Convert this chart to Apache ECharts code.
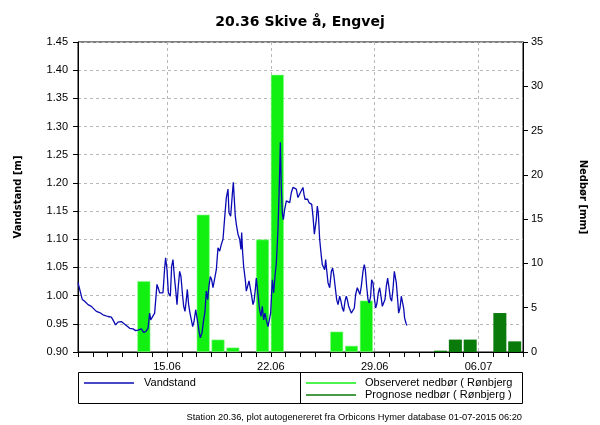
<!DOCTYPE html>
<html>
<head>
<meta charset="utf-8">
<script src="https://cdn.jsdelivr.net/npm/echarts@6/dist/echarts.min.js"></script>
<style>
html,body{margin:0;padding:0;background:#fff;}
#chart{width:600px;height:425px;}
</style>
</head>
<body>
<div id="chart"></div>
<script>
// ---- data ----
// Vandstand: hours after 09.06.2015 00:00 and level [m]
const levelHours = [0,2.7,7.0,10.8,16.2,21.6,24.3,29.7,35.1,40.4,48.5,53.9,56.6,60.9,62.0,64.7,70.1,72.8,78.2,83.6,89.0,93.3,97.1,99.8,102.5,106.2,109.5,113.3,115.9,117.6,120.3,124.0,127.8,130.5,132.1,134.8,137.5,140.2,141.8,144.0,146.2,148.3,149.4,151.5,153.7,155.9,158.0,160.2,162.3,164.5,166.6,168.8,171.0,173.1,175.3,176.9,179.0,181.2,183.4,185.5,187.7,190.4,193.1,195.8,197.9,200.6,203.3,205.5,207.6,209.8,211.9,214.1,216.3,218.4,221.1,223.8,226.5,229.2,231.9,234.6,237.3,240.0,242.7,244.3,247.0,249.7,251.3,252.9,254.5,256.2,258.9,261.6,263.7,264.8,266.4,268.0,270.7,272.3,275.0,276.7,278.8,281.0,283.1,284.8,286.9,288.5,291.2,293.9,296.1,298.2,300.4,302.5,304.7,307.4,310.1,311.7,314.4,316.6,318.7,320.9,323.6,325.2,326.3,327.4,329.0,330.6,332.2,334.4,337.1,339.8,342.5,345.2,347.8,350.5,353.2,355.9,358.6,361.3,364.0,365.6,367.3,369.4,371.6,373.7,375.9,378.1,380.2,382.4,384.0,385.6,387.2,388.8,391.0,393.7,395.3,397.5,399.1,400.7,402.3,404.5,407.2,409.9,412.0,414.2,416.3,418.5,420.7,423.4,425.5,427.7,429.8,432.0,434.1,435.8,437.9,440.1,442.2,444.4,447.1,449.2,451.9,454.1,456.2,458.4,461.1,463.2,464.9,467.0,469.2,471.3,473.5,475.1,477.3,479.4,481.6,483.8,485.9,488.1,490.2,492.4,494.5,496.7,498.9,501.0,503.2,505.3,507.5,509.6,511.8,513.4,515.0,517.2,518.8,521.0,523.1,525.3,526.9,528.5,530.7,532.3];
const levelValues = [1.023,1.024,0.993,0.990,0.984,0.981,0.978,0.972,0.970,0.966,0.963,0.962,0.957,0.948,0.950,0.953,0.954,0.951,0.947,0.942,0.941,0.938,0.939,0.936,0.941,0.935,0.936,0.942,0.969,0.957,0.954,0.969,1.020,1.011,1.005,1.008,1.005,1.049,1.067,1.046,1.005,1.008,0.999,1.052,1.064,1.034,1.011,0.984,1.017,1.043,1.034,1.005,0.981,0.972,0.993,1.011,0.984,0.969,0.957,0.945,0.954,0.975,0.957,0.937,0.925,0.934,0.957,0.972,1.008,0.993,1.017,1.034,1.028,1.014,1.011,1.046,1.085,1.079,1.091,1.100,1.138,1.174,1.189,1.147,1.141,1.180,1.201,1.171,1.141,1.126,1.109,1.100,1.082,1.112,1.076,1.052,1.028,1.008,1.011,1.026,1.023,0.999,0.984,0.990,1.011,1.031,1.002,0.975,0.963,0.981,0.957,0.969,0.957,0.945,0.948,0.969,1.028,1.005,1.034,1.058,1.118,1.177,1.221,1.272,1.189,1.147,1.135,1.153,1.168,1.171,1.165,1.183,1.192,1.195,1.189,1.174,1.171,1.186,1.192,1.180,1.171,1.168,1.171,1.165,1.168,1.162,1.141,1.109,1.112,1.135,1.159,1.147,1.100,1.070,1.055,1.058,1.046,1.064,1.046,1.023,1.014,1.043,1.049,1.034,1.014,0.993,0.984,0.999,0.990,0.978,0.972,0.990,0.999,0.993,0.981,0.975,0.969,0.972,0.978,1.002,1.014,1.011,1.002,1.017,1.043,1.055,1.046,1.017,0.993,0.987,0.999,1.028,1.023,0.996,0.978,0.987,1.005,1.014,0.999,0.981,0.978,0.993,1.017,1.031,1.014,0.996,0.990,1.011,1.043,1.046,1.023,0.993,0.969,0.978,0.999,1.002,0.978,0.960,0.951,0.947];

// Observeret nedbør (Rønbjerg), daily [mm]
const obsDates  = ['13.06','17.06','18.06','19.06','21.06','22.06','26.06','27.06','28.06'];
const obsValues = [8.0, 15.5, 1.4, 0.5, 12.7, 31.3, 2.3, 0.7, 5.8];
// Prognose nedbør (Rønbjerg), daily [mm]
const progDates  = ['03.07','04.07','05.07','07.07','08.07'];
const progValues = [0.15, 1.4, 1.4, 4.4, 1.2];

// axis settings
const startDate = '09.06';
const endDate = '09.07';
const xTickLabels = ['15.06','22.06','29.06','06.07'];
const levelTicks = [0.90, 1.45, 0.05];   // min, max, step
const rainTicks = [0, 35, 5];

// ---- helpers: day index since 01.06.2015 ----
function dayIndex(ddmm){
  const [d,m] = ddmm.split('.').map(Number);
  return m === 6 ? d - 1 : 30 + d - 1;
}
function dayLabel(i){
  let d, m;
  if (i < 30){ d = i + 1; m = 6; } else { d = i - 29; m = 7; }
  return String(d).padStart(2,'0') + '.' + String(m).padStart(2,'0');
}
const x0 = dayIndex(startDate), x1 = dayIndex(endDate);
const dayCategories = [];
for (let i = x0; i <= x1; i++) dayCategories.push(dayLabel(i));
const isMajor = (idx, val) => xTickLabels.indexOf(val) >= 0;

const BAR_SHIFT = 0.44; // bars drawn in the first part of their day
const levelData = levelHours.map((h,i) => [x0 + h/24, levelValues[i]]);
const obsData = obsDates.map((d,i) => [dayIndex(d) + BAR_SHIFT, obsValues[i]]);
const progData = progDates.map((d,i) => [dayIndex(d) + BAR_SHIFT, progValues[i]]);

const C_LEVEL = '#0a0ab4', C_OBS = '#12f012', C_PROG = '#0a7a0a';
const FONT = 'Liberation Sans';
const legendText = {fontFamily: FONT, fontSize: 11, color: '#000', lineHeight: 12, padding: [0,0,0,5]};
const chart = echarts.init(document.getElementById('chart'), null, {renderer:'canvas'});
chart.setOption({
  animation: false,
  backgroundColor: '#fff',
  title: [
    {text: '20.36 Skive å, Engvej', left: 'center', top: 10,
     textStyle: {fontFamily: 'DejaVu Sans', fontWeight: 'bold', fontSize: 14, color: '#000'}},
    {text: 'Station 20.36, plot autogenereret fra Orbicons Hymer database 01-07-2015 06:20',
     right: 78, top: 413, padding: 0,
     textStyle: {fontFamily: FONT, fontWeight: 'normal', fontSize: 9.3, color: '#000'}}
  ],
  grid: {left: 78, right: 77, top: 42, bottom: 73, show: true, borderColor: '#000', borderWidth: 1},
  legend: [
    {data: [{name: 'Vandstand', itemStyle: {color: C_LEVEL, borderWidth: 0}}],
     left: 84, top: 377, padding: 0, icon: 'rect', itemWidth: 50, itemHeight: 1.5,
     textStyle: legendText},
    {data: [{name: 'Observeret nedbør ( Rønbjerg )', itemStyle: {color: C_OBS, borderWidth: 0}},
            {name: 'Prognose nedbør ( Rønbjerg )', itemStyle: {color: C_PROG, borderWidth: 0}}],
     orient: 'vertical', left: 306, top: 377, padding: 0, icon: 'rect', itemWidth: 50, itemHeight: 1.5, itemGap: 0,
     textStyle: Object.assign({}, legendText, {padding: [0,0,0,4], width: 152, overflow: 'truncate', ellipsis: ''})}
  ],
  graphic: [
    {type: 'rect', shape: {x: 78.5, y: 372.5, width: 444, height: 31}, style: {fill: 'none', stroke: '#000', lineWidth: 1}, z: 0},
    {type: 'line', shape: {x1: 300.5, y1: 372.5, x2: 300.5, y2: 403.5}, style: {stroke: '#000', lineWidth: 1}, z: 0}
  ],
  xAxis: [
    {type: 'category', data: dayCategories, boundaryGap: false, position: 'bottom',
     axisLine: {lineStyle: {color: '#000', width: 1}},
     axisTick: {length: 5, interval: 0, lineStyle: {color: '#000'}},
     axisLabel: {interval: isMajor, margin: 9, fontFamily: FONT, fontSize: 11, color: '#000'},
     splitLine: {show: true, interval: isMajor, lineStyle: {color: '#b8b8b8', type: [3,3], width: 1}}},
    {type: 'value', min: x0, max: x1, show: false, splitLine: {show: false}}
  ],
  yAxis: [
    {type: 'value', min: levelTicks[0], max: levelTicks[1], interval: levelTicks[2], position: 'left',
     name: 'Vandstand [m]', nameLocation: 'middle', nameGap: 55,
     nameTextStyle: {fontFamily: 'DejaVu Sans', fontWeight: 'bold', fontSize: 10, color: '#000'},
     axisLine: {show: true, lineStyle: {color: '#000'}},
     axisTick: {show: true, length: 5, lineStyle: {color: '#000'}},
     axisLabel: {margin: 10, formatter: v => v.toFixed(2), fontFamily: FONT, fontSize: 11, color: '#000'},
     splitLine: {show: true, lineStyle: {color: '#b8b8b8', type: [3,3], width: 1}}},
    {type: 'value', min: rainTicks[0], max: rainTicks[1], interval: rainTicks[2], position: 'right',
     name: 'Nedbør [mm]', nameLocation: 'middle', nameGap: 55, nameRotate: -90,
     nameTextStyle: {fontFamily: 'DejaVu Sans', fontWeight: 'bold', fontSize: 10, color: '#000'},
     axisLine: {show: true, lineStyle: {color: '#000'}},
     axisTick: {show: true, length: 5, lineStyle: {color: '#000'}},
     axisLabel: {margin: 8, fontFamily: FONT, fontSize: 11, color: '#000'},
     splitLine: {show: false}}
  ],
  series: [
    {name: 'Observeret nedbør ( Rønbjerg )', type: 'bar', xAxisIndex: 1, yAxisIndex: 1,
     data: obsData, barWidth: 13, itemStyle: {color: C_OBS, borderColor: '#8cfa8c', borderWidth: 0.6}, z: 2},
    {name: 'Prognose nedbør ( Rønbjerg )', type: 'bar', xAxisIndex: 1, yAxisIndex: 1,
     data: progData, barWidth: 13, barGap: '-100%', itemStyle: {color: C_PROG}, z: 2},
    {name: 'Vandstand', type: 'line', xAxisIndex: 1, yAxisIndex: 0, data: levelData,
     showSymbol: false, symbol: 'none', lineStyle: {color: C_LEVEL, width: 1.3}, itemStyle: {color: C_LEVEL}, z: 5}
  ]
});
</script>
</body>
</html>
